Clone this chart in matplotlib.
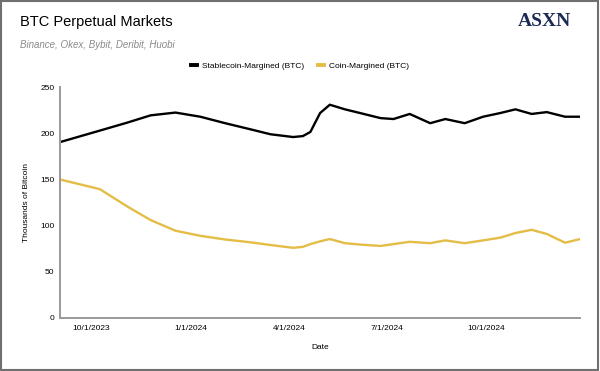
import pandas as pd
import matplotlib
matplotlib.use('Agg')
import matplotlib.pyplot as plt
from matplotlib.lines import Line2D
from matplotlib.patches import Rectangle

plt.rcParams['font.family'] = ['Liberation Sans', 'DejaVu Sans']

# values (thousands of BTC)
dates = ['2023-09-02', '2023-10-09', '2023-11-03', '2023-11-25', '2023-12-18',
         '2024-01-10', '2024-02-02', '2024-02-25', '2024-03-15', '2024-04-05',
         '2024-04-14', '2024-04-21', '2024-04-30', '2024-05-09', '2024-05-23',
         '2024-06-06', '2024-06-25', '2024-07-07', '2024-07-22', '2024-08-10',
         '2024-08-24', '2024-09-11', '2024-09-28', '2024-10-14', '2024-10-28',
         '2024-11-12', '2024-11-26', '2024-12-13', '2024-12-27']
stablecoin = [190.5, 203, 211.5, 219.5, 222.5, 218, 211, 204.5, 199, 196,
              197, 201.5, 222, 231, 226, 222, 216.5, 215.5, 221, 211,
              215.5, 211, 218, 222, 226, 221, 223, 218, 218]
coin = [150, 139.5, 121, 106, 94.5, 89, 85, 82, 79, 76,
        77, 80, 83, 85.5, 81, 79.5, 78, 80, 82.5, 81,
        84, 81, 84, 87, 92, 95.5, 91, 81.5, 85.5]
tick_dates = ['2023-10-01', '2024-01-01', '2024-04-01', '2024-07-01', '2024-10-01']
tick_labels = ['10/1/2023', '1/1/2024', '4/1/2024', '7/1/2024', '10/1/2024']
series_names = ['Stablecoin-Margined (BTC)', 'Coin-Margined (BTC)']
colors = ['black', '#e3bd45']

df = pd.DataFrame({'date': pd.to_datetime(dates),
                   'stable': stablecoin, 'coin': coin})

fig = plt.figure(figsize=(6, 3.71), dpi=100)
ax = fig.add_axes([0.1, 0.143, 0.867, 0.622])

ax.plot(df['date'], df['stable'], color=colors[0], lw=1.7)
ax.plot(df['date'], df['coin'], color=colors[1], lw=1.7)

ax.set_ylim(0, 250)
ax.set_yticks([0, 50, 100, 150, 200, 250])
ax.set_xlim(pd.Timestamp('2023-09-02'), pd.Timestamp('2024-12-27'))
ax.set_xticks(pd.to_datetime(tick_dates))
ax.set_xticklabels(tick_labels)
ax.tick_params(length=0, labelsize=6, pad=5)
ax.tick_params(axis='y', pad=4)

for s in ['top', 'right']:
    ax.spines[s].set_visible(False)
for s in ['left', 'bottom']:
    ax.spines[s].set_color('#9a9a9a')
    ax.spines[s].set_linewidth(1.4)

ax.set_ylabel('Thousands of Bitcoin', fontsize=6, labelpad=7)
ax.set_xlabel('Date', fontsize=6, labelpad=9)

fig.text(20/600, 1-22/371, 'BTC Perpetual Markets', fontsize=10.5, va='center')
fig.text(20/600, 1-45/371, 'Binance, Okex, Bybit, Deribit, Huobi', fontsize=7,
         style='italic', color='#8a8a8a', va='center')
fig.text(571/600, 1-22/371, 'ASXN', fontsize=14, fontweight='bold',
         family='Liberation Serif', color='#1b2a55', ha='right', va='center')

handles = [Line2D([], [], color=c, lw=2.8) for c in colors]
fig.legend(handles, series_names, loc='center', bbox_to_anchor=(0.5, 1-66/371),
           ncol=2, frameon=False, fontsize=6, handlelength=0.8,
           handletextpad=0.6, columnspacing=1.6)

fig.patches.append(Rectangle((0.002, 0.003), 0.995, 0.994, transform=fig.transFigure,
                             fill=False, edgecolor='#707070', lw=1.5))

fig.savefig('out.png', dpi=100)
